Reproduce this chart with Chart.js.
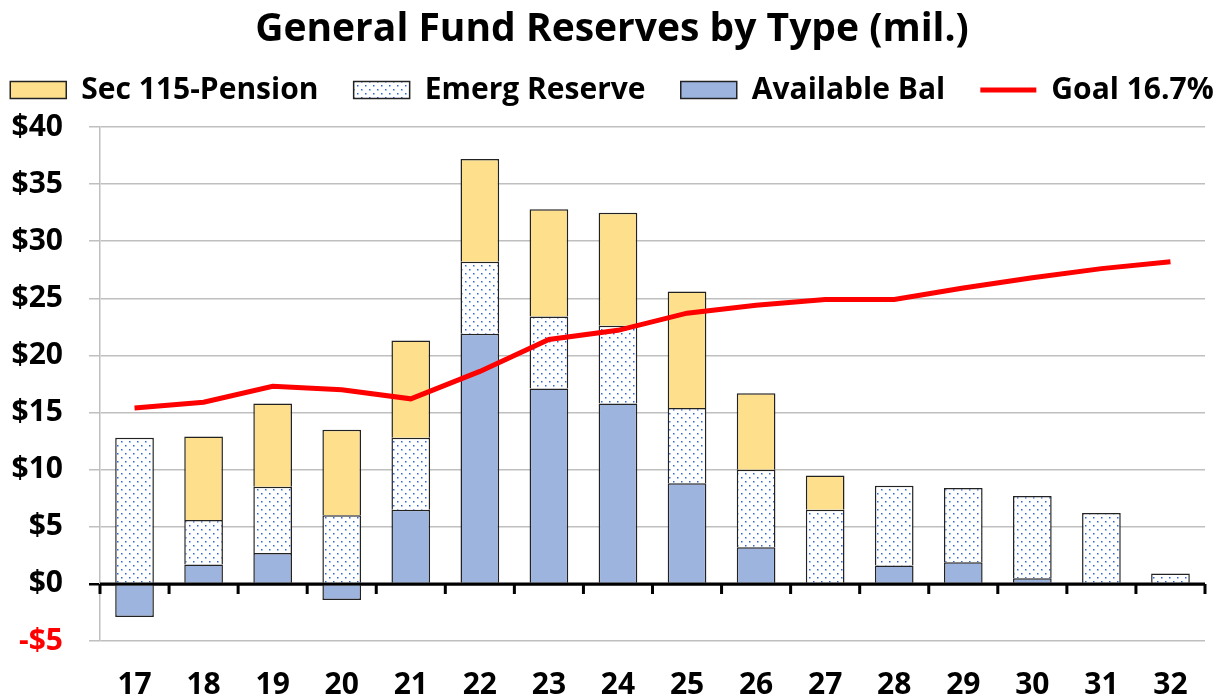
<!DOCTYPE html>
<html>
<head>
<meta charset="utf-8">
<script src="https://cdn.jsdelivr.net/npm/chart.js@4"></script>
<style>
  body { margin: 0; background: #fff; }
  #wrap { width: 1224px; height: 700px; }
</style>
</head>
<body>
<div id="wrap"><canvas id="chart"></canvas></div>
<script>
const years = ['17', '18', '19', '20', '21', '22', '23', '24', '25', '26', '27', '28', '29', '30', '31', '32']
const availableBal = [-2.9, 1.7, 2.7, -1.4, 6.5, 21.9, 17.1, 15.8, 8.8, 3.2, null, 1.6, 1.9, 0.5, null, null]
const emergReserve = [12.8, 3.9, 5.8, 6.0, 6.3, 6.3, 6.3, 6.8, 6.6, 6.8, 6.5, 7.0, 6.5, 7.2, 6.2, 0.9]
const pension = [null, 7.3, 7.3, 7.5, 8.5, 9.0, 9.4, 9.9, 10.2, 6.7, 3.0, null, null, null, null, null]
const goal = [15.4, 15.9, 17.3, 17.0, 16.2, 18.6, 21.4, 22.2, 23.7, 24.4, 24.9, 24.9, 25.9, 26.8, 27.6, 28.2]
const yTicks = [-5, 0, 5, 10, 15, 20, 25, 30, 35, 40]

const FONT = '"Open Sans"'
const legendOrder = ['Sec 115-Pension', 'Emerg Reserve', 'Available Bal', 'Goal 16.7%']

// dotted fill like the excel "5%" pattern
function dotPattern() {
  const c = document.createElement('canvas')
  c.width = 8
  c.height = 8
  const g = c.getContext('2d')
  g.fillStyle = '#ffffff'
  g.fillRect(0, 0, 8, 8)
  g.fillStyle = '#2f66d6'
  g.fillRect(1, 1, 1.5, 1.5)
  g.fillRect(5, 5, 1.5, 1.5)
  return g.createPattern(c, 'repeat')
}

// black zero line with small ticks between the categories
const zeroLine = {
  id: 'zeroLine',
  afterDraw(chart) {
    const c = chart.ctx
    const area = chart.chartArea
    const xs = chart.scales.x
    const y0 = chart.scales.y.getPixelForValue(0)
    const step = xs.getPixelForValue(1) - xs.getPixelForValue(0)
    const first = xs.getPixelForValue(0) - step / 2
    c.save()
    c.strokeStyle = '#000000'
    c.lineWidth = 3
    c.beginPath()
    c.moveTo(area.left, y0)
    c.lineTo(area.right, y0)
    for (let i = 0; i <= years.length; i++) {
      c.moveTo(first + i * step, y0)
      c.lineTo(first + i * step, y0 + 10)
    }
    c.stroke()
    c.restore()
  },
}

const chart = new Chart(document.getElementById('chart'), {
  type: 'bar',
  data: {
    labels: years,
    datasets: [
      {
        label: 'Available Bal',
        data: availableBal,
        backgroundColor: '#9db4df',
        borderColor: '#222',
        borderWidth: 1.5,
        stack: 'bars',
        pointStyle: 'rect',
        order: 1,
      },
      {
        label: 'Emerg Reserve',
        data: emergReserve,
        backgroundColor: dotPattern(),
        borderColor: '#222',
        borderWidth: 1.5,
        stack: 'bars',
        pointStyle: 'rect',
        order: 1,
      },
      {
        label: 'Sec 115-Pension',
        data: pension,
        backgroundColor: '#fee08c',
        borderColor: '#222',
        borderWidth: 1.5,
        stack: 'bars',
        pointStyle: 'rect',
        order: 1,
      },
      {
        type: 'line',
        label: 'Goal 16.7%',
        data: goal,
        borderColor: '#ff0000',
        backgroundColor: '#ff0000',
        borderWidth: 5,
        pointRadius: 0,
        pointStyle: 'line',
        stack: 'goal',
        order: 0,
      },
    ],
  },
  plugins: [zeroLine],
  options: {
    responsive: true,
    maintainAspectRatio: false,
    animation: false,
    categoryPercentage: 1,
    barPercentage: 0.56,
    layout: { padding: 0 },
    plugins: {
      title: {
        display: true,
        text: 'General Fund Reserves by Type (mil.)',
        color: '#000',
        font: { family: FONT, size: 39, weight: 'bold', lineHeight: 1 },
        padding: { top: 10, bottom: 22 },
      },
      legend: {
        display: true,
        labels: {
          color: '#000',
          font: { family: FONT, size: 30, weight: 'bold' },
          usePointStyle: true,
          pointStyleWidth: 56,
          boxWidth: 56,
          boxHeight: 17,
          padding: 4,
          sort: (a, b) => legendOrder.indexOf(a.text.trim()) - legendOrder.indexOf(b.text.trim()),
          // trailing spaces give the wide gaps between entries
          generateLabels: (c) => Chart.defaults.plugins.legend.labels.generateLabels(c).map(item => {
            if (item.text !== 'Goal 16.7%') item.text += '    '
            return item
          }),
        },
      },
      tooltip: { enabled: false },
    },
    scales: {
      x: {
        stacked: true,
        grid: { display: false, drawTicks: false },
        border: { display: false },
        ticks: {
          color: '#000',
          font: { family: FONT, size: 30, weight: 'bold' },
          padding: 26,
        },
        afterFit: (s) => { s.height = 59 },
      },
      // empty top axis: gap between legend and plot
      gapTop: {
        type: 'category',
        position: 'top',
        grid: { display: false, drawTicks: false },
        border: { display: false },
        ticks: { display: false },
        afterFit: (s) => { s.height = 12 },
      },
      y: {
        stacked: true,
        min: -5,
        max: 40,
        afterBuildTicks: (s) => { s.ticks = yTicks.map(v => ({ value: v })) },
        grid: {
          color: (c) => c.tick && c.tick.value === 0 ? '#000000' : '#bfbfbf',
          lineWidth: (c) => c.tick && c.tick.value === 0 ? 2.5 : 1.5,
          tickLength: 11,
        },
        border: { color: '#bfbfbf', width: 1.5 },
        ticks: {
          font: { family: FONT, size: 30, weight: 'bold' },
          color: (c) => c.tick.value < 0 ? '#ff0000' : '#000',
          padding: 26,
          callback: (v) => (v < 0 ? '-$' : '$') + Math.abs(v),
        },
        afterFit: (s) => { s.width = 100 },
      },
      // empty right axis, only keeps a right margin so the legend stays centred on the page
      spacer: {
        type: 'linear',
        position: 'right',
        grid: { display: false, drawTicks: false },
        border: { display: false },
        ticks: { display: false },
        afterFit: (s) => { s.width = 19 },
      },
    },
  },
})
</script>
</body>
</html>
